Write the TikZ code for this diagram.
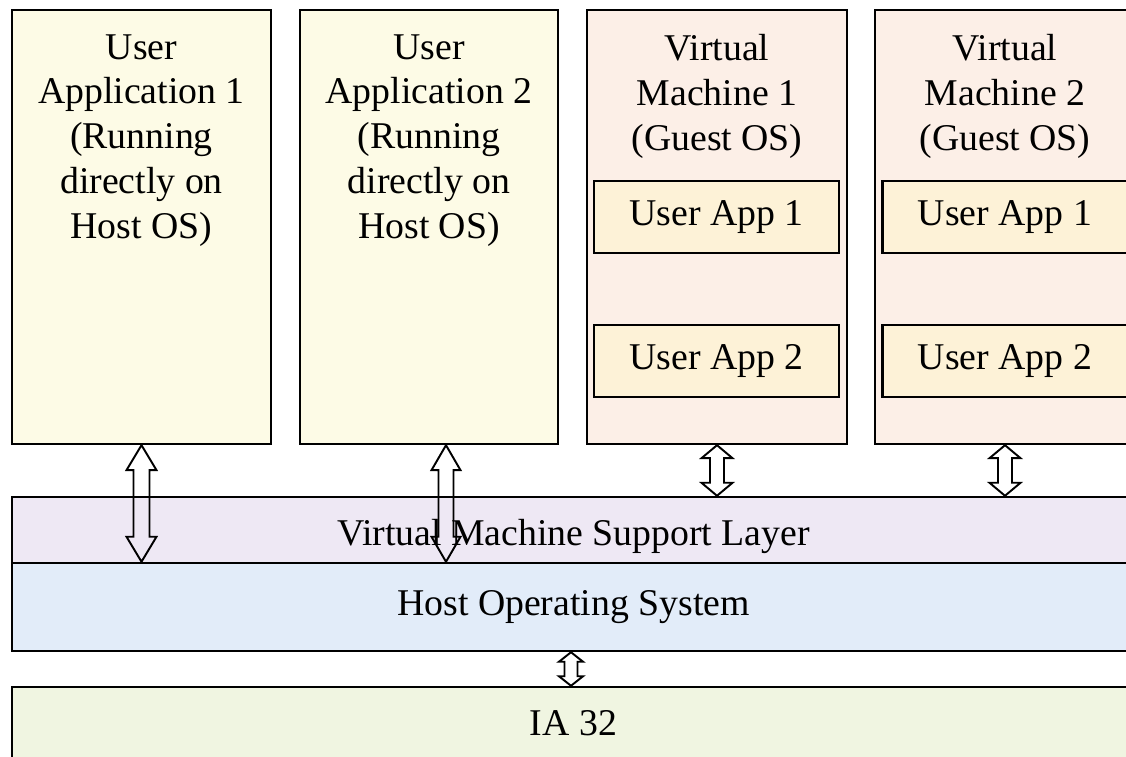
\documentclass[tikz,border=0pt]{standalone}
\usepackage{fontspec}
\setmainfont{Liberation Serif}
\usetikzlibrary{calc}
\definecolor{uafill}{RGB}{253,251,230}
\definecolor{vmfill}{RGB}{252,239,231}
\definecolor{appfill}{RGB}{253,242,215}
\definecolor{vmsfill}{RGB}{238,232,244}
\definecolor{hosfill}{RGB}{226,236,249}
\definecolor{iafill}{RGB}{240,245,225}
\tikzset{
  box/.style={draw, line width=1.4pt, inner sep=0pt, font=\fontsize{21.5}{25.5}\selectfont},
  uabox/.style={box, fill=uafill, minimum width=5.18cm, minimum height=8.68cm},
  vmbox/.style={box, fill=vmfill, minimum width=5.2cm, minimum height=8.68cm},
  appbox/.style={box, fill=appfill, minimum width=4.9cm, minimum height=1.44cm},
  layer/.style={box, minimum width=22.46cm},
  title/.style={inner sep=0pt, align=center, anchor=north, font=\fontsize{21.5}{25.5}\selectfont},
  fat/.style={draw, line width=1.1pt, line join=miter},
}
% hollow double arrow from #1 (top) to #2 (bottom): shaft half, head half, head length
\newcommand{\fatarrow}[5]{%
  \draw[fat] (#1) -- ($(#1)+(#4,#5)$) -- ($(#1)+(#3,#5)$) -- ($(#2)+(#3,-#5)$)
    -- ($(#2)+(#4,-#5)$) -- (#2) -- ($(#2)+(-#4,-#5)$) -- ($(#2)+(-#3,-#5)$)
    -- ($(#1)+(-#3,#5)$) -- ($(#1)+(-#4,#5)$) -- cycle;}
\begin{document}
\begin{tikzpicture}[x=0.02cm, y=-0.02cm]
    \useasboundingbox (0, 0) rectangle (1126, 757);
    \clip (0, 0) rectangle (1126, 757);
    % top boxes
    \node[uabox] (ua1) at (141.5, 227) {};
    \node[uabox, minimum width=5.16cm] (ua2) at (429, 227) {};
    \node[vmbox] (vm1) at (717, 227) {};
    \node[vmbox] (vm2) at (1005, 227) {};
    \node[title] (ua1t) at (141.5, 34) {User\\Application 1\\(Running\\directly on\\Host OS)};
    \node[title] (ua2t) at (429, 34) {User\\Application 2\\(Running\\directly on\\Host OS)};
    \node[title] (vm1t) at (717, 34) {Virtual\\Machine 1\\(Guest OS)};
    \node[title] (vm2t) at (1005, 34) {Virtual\\Machine 2\\(Guest OS)};
    \node[appbox] (vm1a) at (716.5, 217) {User App 1};
    \node[appbox] (vm1b) at (716.5, 361) {User App 2};
    \node[appbox] (vm2a) at (1005, 217) {User App 1};
    \node[appbox] (vm2b) at (1005, 361) {User App 2};
    % layers
    \node[layer, fill=vmsfill, minimum height=1.32cm] (vms) at (573.5, 530) {};
    \node[font=\fontsize{21.5}{25.5}\selectfont] (vmst) at (573.5, 536) {Virtual Machine Support Layer};
    \node[layer, fill=hosfill, minimum height=1.76cm] (hos) at (573.5, 607) {Host Operating System};
    \node[layer, fill=iafill, minimum height=1.44cm] (ia) at (573.5, 723) {IA 32};
    % arrows
    \coordinate (a1b) at (ua1.south |- hos.north);
    \coordinate (a2t) at ($(ua2.south)+(17, 0)$);
    \coordinate (a2b) at (a2t |- hos.north);
    \coordinate (v1b) at (vm1.south |- vms.north);
    \coordinate (v2b) at (vm2.south |- vms.north);
    \coordinate (h1t) at ($(hos.south)+(-2.5, 0)$);
    \coordinate (h1b) at (h1t |- ia.north);
    \fatarrow{ua1.south}{a1b}{8}{15}{25}
    \fatarrow{a2t}{a2b}{7.5}{14.5}{25}
    \fatarrow{vm1.south}{v1b}{7}{15.5}{13}
    \fatarrow{vm2.south}{v2b}{7}{15.5}{13}
    \fatarrow{h1t}{h1b}{6.5}{12}{9.5}
\end{tikzpicture}
\end{document}
